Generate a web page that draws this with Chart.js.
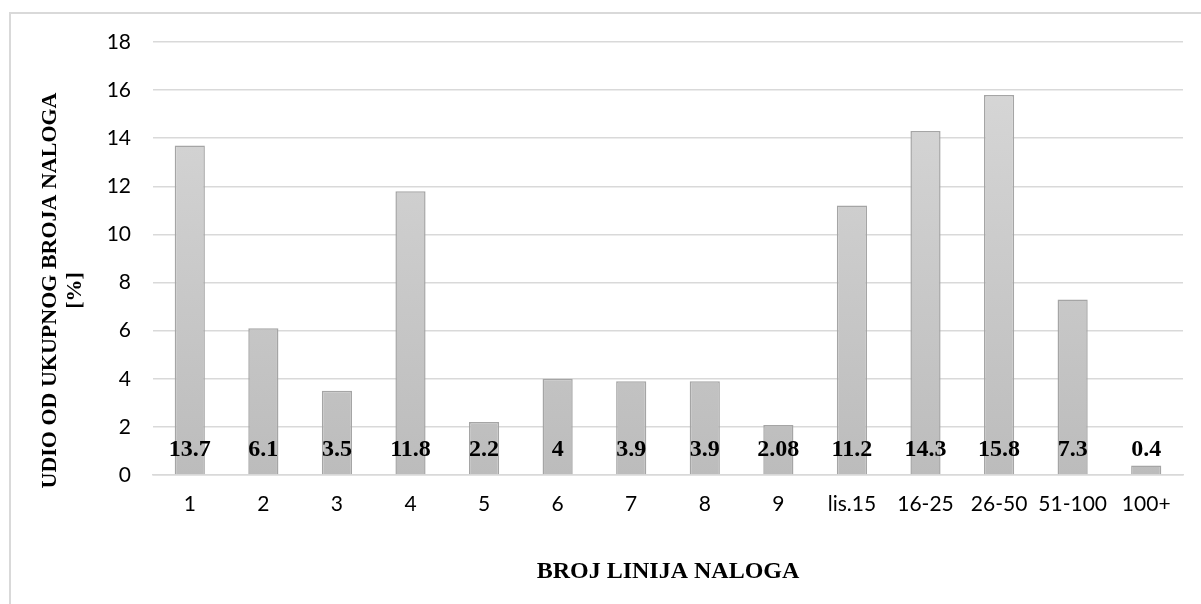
<!DOCTYPE html>
<html>
<head>
<meta charset="utf-8">
<script src="https://cdn.jsdelivr.net/npm/chart.js@4"></script>
<style>
html,body{margin:0;padding:0;background:#fff;}
#wrap{position:relative;width:1201px;height:604px;overflow:hidden;}
#frame{position:absolute;left:9px;top:12px;width:1200px;height:640px;border:2px solid #d9d9d9;box-sizing:border-box;}
canvas{position:absolute;left:0;top:0;}
</style>
</head>
<body>
<div id="wrap">
<div id="frame"></div>
<canvas id="c" width="1201" height="604"></canvas>
</div>
<script>
const categories = ['1','2','3','4','5','6','7','8','9','lis.15','16-25','26-50','51-100','100+'];
const values = [13.7, 6.1, 3.5, 11.8, 2.2, 4, 3.9, 3.9, 2.08, 11.2, 14.3, 15.8, 7.3, 0.4];
const labels = ['13.7','6.1','3.5','11.8','2.2','4','3.9','3.9','2.08','11.2','14.3','15.8','7.3','0.4'];
const yTitle = ['UDIO OD UKUPNOG BROJA NALOGA','[%]'];
const xTitle = 'BROJ LINIJA NALOGA';

const labelPlugin = {
  id: 'baseLabels',
  afterDatasetsDraw(chart) {
    const ctx = chart.ctx;
    const meta = chart.getDatasetMeta(0);
    const ys = chart.scales.y;
    ctx.save();
    ctx.font = 'bold 24px "Liberation Serif", "Times New Roman", serif';
    ctx.fillStyle = '#000';
    ctx.textAlign = 'center';
    ctx.textBaseline = 'middle';
    meta.data.forEach((bar, i) => {
      ctx.fillText(labels[i], bar.x, ys.getPixelForValue(1.05));
    });
    ctx.restore();
  }
};

const yTitlePlugin = {
  id: 'yTitle',
  afterDraw(chart) {
    const ctx = chart.ctx;
    const area = chart.chartArea;
    const cy = (area.top + area.bottom) / 2 + 32;
    ctx.save();
    ctx.font = 'bold 22px "Liberation Serif", "Times New Roman", serif';
    ctx.fillStyle = '#000';
    ctx.textAlign = 'center';
    ctx.textBaseline = 'middle';
    ctx.translate(50, cy);
    ctx.rotate(-Math.PI / 2);
    yTitle.forEach((line, i) => ctx.fillText(line, 0, i * 25));
    ctx.restore();
  }
};

new Chart(document.getElementById('c'), {
  type: 'bar',
  data: {
    labels: categories,
    datasets: [{
      data: values,
      backgroundColor(context) {
        const area = context.chart.chartArea;
        if (!area) return '#c8c8c8';
        const g = context.chart.ctx.createLinearGradient(0, area.top, 0, area.bottom);
        g.addColorStop(0, '#d9d9d9');
        g.addColorStop(1, '#bcbcbc');
        return g;
      },
      borderColor: '#a5a5a5',
      borderWidth: 1.5,
      categoryPercentage: 1,
      barPercentage: 0.41
    }]
  },
  options: {
    responsive: false,
    animation: false,
    devicePixelRatio: 1,
    layout: { padding: { left: 106, top: 42, right: 18, bottom: 14 } },
    plugins: {
      legend: { display: false },
      tooltip: { enabled: false }
    },
    scales: {
      x: {
        grid: { display: false, drawTicks: false },
        border: { display: true, color: '#d9d9d9', width: 1.5 },
        ticks: { color: '#000', font: { family: 'Lato, "Open Sans", sans-serif', size: 21 }, padding: 17, maxRotation: 0, minRotation: 0, autoSkip: false },
        title: { display: true, text: xTitle, color: '#000', font: { family: '"Liberation Serif", serif', size: 24, weight: 'bold' }, padding: { top: 23 } }
      },
      y: {
        min: 0, max: 18,
        afterFit(scale) { scale.width = 47; },
        ticks: { stepSize: 2, color: '#000', font: { family: 'Lato, "Open Sans", sans-serif', size: 21 }, padding: 22 },
        grid: { color: '#d9d9d9', lineWidth: 1.5, drawTicks: false },
        border: { display: false },
        title: { display: false }
      }
    }
  },
  plugins: [labelPlugin, yTitlePlugin]
});
</script>
</body>
</html>
